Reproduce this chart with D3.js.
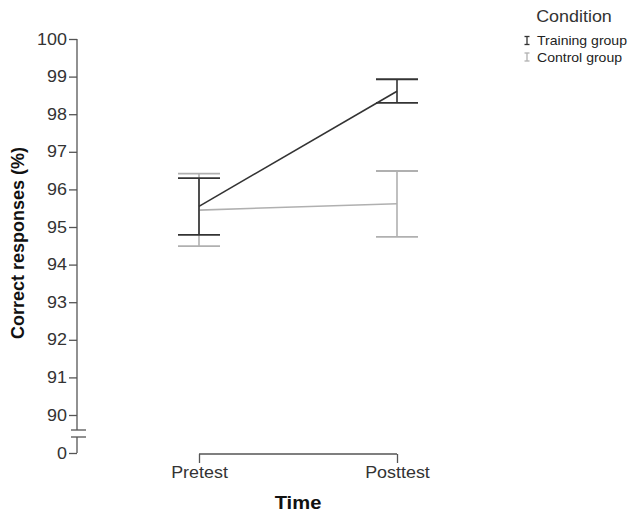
<!DOCTYPE html>
<html><head><meta charset="utf-8">
<script src="https://cdn.jsdelivr.net/npm/d3@7"></script>
<style>body{margin:0;background:#fff}svg{display:block;font-family:"Liberation Sans",Arial,sans-serif}</style>
</head><body><svg id="c" width="638" height="519"></svg>
<script>
const times = ["Pretest", "Posttest"];
const groups = ["Training group", "Control group"];
const trainingMean = [95.55, 98.61];
const trainingLow = [94.79, 98.30];
const trainingHigh = [96.30, 98.93];
const controlMean = [95.45, 95.62];
const controlLow = [94.49, 94.74];
const controlHigh = [96.42, 96.49];
const yTicks = [90, 91, 92, 93, 94, 95, 96, 97, 98, 99, 100];
const groupColors = ["#333333", "#b0b0b0"];

const svg = d3.select("#c");
const y = d3.scaleLinear().domain([90, 100]).range([415, 39]);
const x = d3.scalePoint().domain(times).range([199, 397]);
const axisX = 77;
const axisColor = "#555";
const sx = 1.12;

// Y axis upper segment (90-100)
const yAxis = d3.axisLeft(y).tickValues(yTicks).tickSize(8).tickPadding(1).tickSizeOuter(0);
const gy = svg.append("g").attr("transform", `translate(${axisX},0)`).call(yAxis);
gy.select(".domain").remove();
gy.selectAll(".tick line").attr("stroke", axisColor).attr("stroke-width", 1.3);
gy.selectAll(".tick text").attr("font-size", 16).attr("fill", "#333").attr("transform", `scale(${sx},1)`);
svg.append("line").attr("x1", axisX).attr("x2", axisX).attr("y1", y(100)).attr("y2", 430)
  .attr("stroke", axisColor).attr("stroke-width", 1.3);
// broken segment with 0
const y0 = d3.scaleLinear().domain([0, 1]).range([453, 415]);
const gy0 = svg.append("g").attr("transform", `translate(${axisX},0)`)
  .call(d3.axisLeft(y0).tickValues([0]).tickFormat(d3.format("d")).tickSize(8).tickPadding(1));
gy0.select(".domain").remove();
gy0.selectAll(".tick line").attr("stroke", axisColor).attr("stroke-width", 1.3);
gy0.selectAll(".tick text").attr("font-size", 16).attr("fill", "#333").attr("transform", `scale(${sx},1)`);
svg.append("line").attr("x1", axisX).attr("x2", axisX).attr("y1", 437).attr("y2", y0(0))
  .attr("stroke", axisColor).attr("stroke-width", 1.3);
// break marks
[430, 437].forEach(v => svg.append("line").attr("x1", 71).attr("x2", 86).attr("y1", v).attr("y2", v)
  .attr("stroke", axisColor).attr("stroke-width", 1.3));

// X axis bracket
const xAxis = d3.axisBottom(x).tickSize(9).tickSizeOuter(0);
const gx = svg.append("g").attr("transform", "translate(0,454)").call(xAxis);
gx.select(".domain").remove();
gx.selectAll(".tick line").attr("stroke", axisColor).attr("stroke-width", 1.3);
gx.selectAll(".tick text").attr("font-size", 16).attr("fill", "#333")
  .attr("y", 24).attr("dy", null).attr("transform", `scale(${sx},1)`);
svg.append("line").attr("x1", x("Pretest")).attr("x2", x("Posttest")).attr("y1", 454).attr("y2", 454)
  .attr("stroke", axisColor).attr("stroke-width", 1.3);

// Axis titles
svg.append("text").attr("transform", `translate(298,509) scale(${sx},1)`).attr("text-anchor", "middle")
  .attr("font-size", 18).attr("font-weight", "bold").attr("fill", "#111").text("Time");
svg.append("text").attr("transform", "translate(24,243) rotate(-90)").attr("text-anchor", "middle")
  .attr("font-size", 18).attr("font-weight", "bold").attr("fill", "#111").text("Correct responses (%)");

// Series
const series = [
  {name: groups[0], mean: trainingMean, lo: trainingLow, hi: trainingHigh, color: groupColors[0]},
  {name: groups[1], mean: controlMean, lo: controlLow, hi: controlHigh, color: groupColors[1]}
];
const line = d3.line().x((d, i) => x(times[i])).y(d => y(d));
const capW = 21;
[series[1], series[0]].forEach(s => {
  const g = svg.append("g");
  times.forEach((t, i) => {
    const cx = x(t);
    g.append("line").attr("x1", cx).attr("x2", cx).attr("y1", y(s.lo[i])).attr("y2", y(s.hi[i]))
      .attr("stroke", s.color).attr("stroke-width", 1.6);
    [s.lo[i], s.hi[i]].forEach(v => g.append("line").attr("x1", cx - capW).attr("x2", cx + capW)
      .attr("y1", y(v)).attr("y2", y(v)).attr("stroke", s.color).attr("stroke-width", 1.8));
  });
  g.append("path").datum(s.mean).attr("d", line).attr("fill", "none")
    .attr("stroke", s.color).attr("stroke-width", 1.6);
});

// Legend
svg.append("text").attr("transform", `translate(574,21.5) scale(${sx},1)`).attr("text-anchor", "middle")
  .attr("font-size", 16).attr("fill", "#333").text("Condition");
series.forEach((s, i) => {
  const ly = 40.5 + i * 16.5;
  const g = svg.append("g").attr("transform", `translate(527,${ly})`);
  g.append("line").attr("x1", 0).attr("x2", 0).attr("y1", -4).attr("y2", 4).attr("stroke", s.color).attr("stroke-width", 1.3);
  g.append("line").attr("x1", -2.5).attr("x2", 2.5).attr("y1", -4).attr("y2", -4).attr("stroke", s.color).attr("stroke-width", 1.3);
  g.append("line").attr("x1", -2.5).attr("x2", 2.5).attr("y1", 4).attr("y2", 4).attr("stroke", s.color).attr("stroke-width", 1.3);
  g.append("text").attr("transform", `translate(10,4.5) scale(1.04,1)`).attr("font-size", 13.5)
    .attr("fill", "#222").text(s.name);
});
</script></body></html>
